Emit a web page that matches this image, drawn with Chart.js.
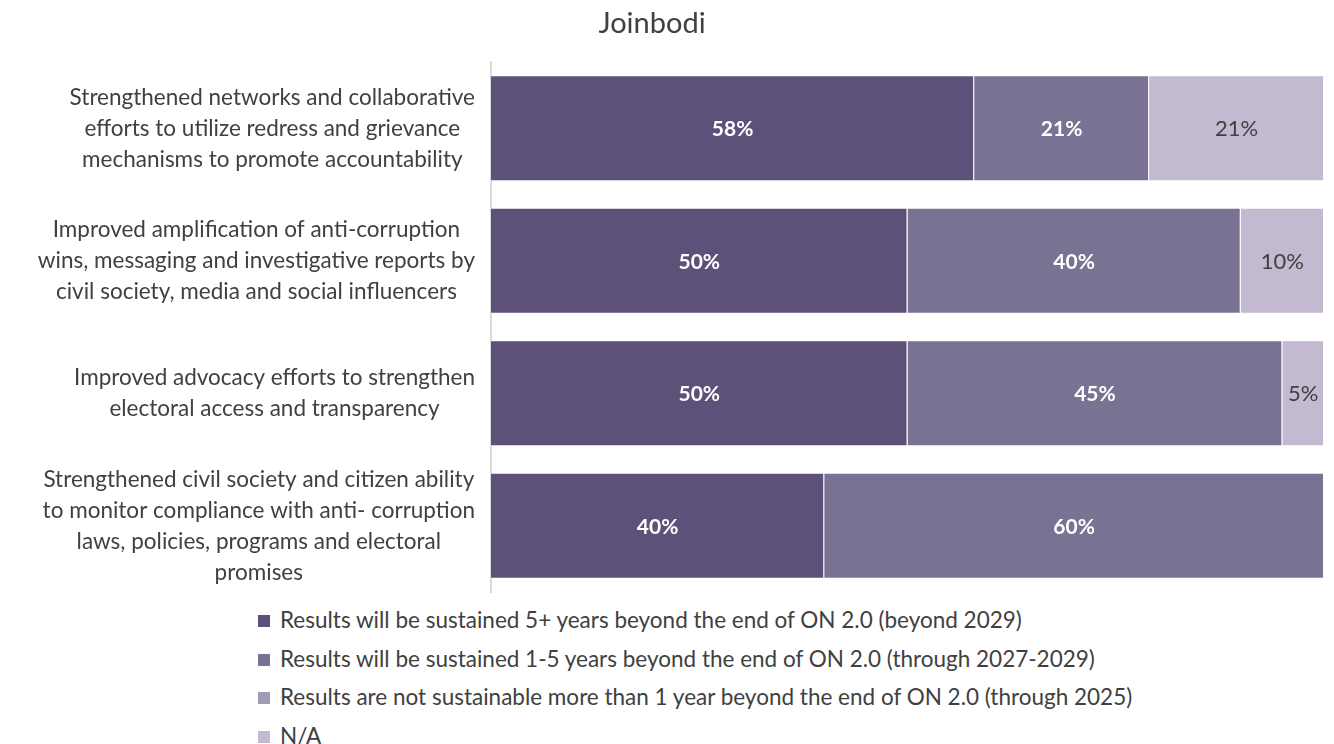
<!DOCTYPE html>
<html>
<head>
<meta charset="utf-8">
<script src="https://cdn.jsdelivr.net/npm/chart.js@4.4.1/dist/chart.umd.min.js"></script>
<style>
  body { margin: 0; background: #fff; font-family: Lato, "Open Sans", sans-serif; }
  #wrap { position: relative; width: 1334px; height: 744px; }
  #legend { position: absolute; left: 258px; top: 601px; color: #404040; font-size: 22.5px; }
  #legend div { height: 38.5px; line-height: 38px; white-space: nowrap; }
  #legend span { display: inline-block; width: 12px; height: 12px; margin-right: 10px; vertical-align: 1px; }
</style>
</head>
<body>
<div id="wrap">
  <canvas id="chart" width="1334" height="600"></canvas>
  <div id="legend"></div>
</div>
<script>
const categories = [
    ['Strengthened networks and collaborative', 'efforts to utilize redress and grievance', 'mechanisms to promote accountability'],
    ['Improved amplification of anti-corruption', 'wins, messaging and investigative reports by', 'civil society, media and social influencers'],
    ['Improved advocacy efforts to strengthen', 'electoral access and transparency'],
    ['Strengthened civil society and citizen ability', 'to monitor compliance with anti- corruption', 'laws, policies, programs and electoral', 'promises']
];
const seriesNames = [
    'Results will be sustained 5+ years beyond the end of ON 2.0 (beyond 2029)',
    'Results will be sustained 1-5 years beyond the end of ON 2.0 (through 2027-2029)',
    'Results are not sustainable more than 1 year beyond the end of ON 2.0 (through 2025)',
    'N/A'
];
const sustained5 = [58, 50, 50, 40];
const sustained1to5 = [21, 40, 45, 60];
const notSustainable = [0, 0, 0, 0];
const notApplicable = [21, 10, 5, 0];
const colors = ['#5d5079', '#7a7292', '#a09ab3', '#c3b9d0'];

const textColor = '#404040';
const font = 'Lato, "Open Sans", sans-serif';

// labels in the middle of each segment
const segmentLabels = {
    id: 'segmentLabels',
    afterDatasetsDraw(chart) {
        const ctx = chart.ctx;
        ctx.save();
        ctx.textAlign = 'center';
        ctx.textBaseline = 'middle';
        chart.data.datasets.forEach((ds, i) => {
            const meta = chart.getDatasetMeta(i);
            meta.data.forEach((bar, j) => {
                const v = ds.data[j];
                if (!v) return;
                const p = bar.getCenterPoint();
                if (i === 3) {
                    ctx.fillStyle = textColor;
                    ctx.font = '22px ' + font;
                } else {
                    ctx.fillStyle = '#ffffff';
                    ctx.font = 'bold 21px ' + font;
                }
                ctx.fillText(v + '%', p.x, p.y + 1);
            });
        });
        ctx.restore();
    }
};

// category labels: block sits against the axis, lines centred inside it
const categoryLabels = {
    id: 'categoryLabels',
    afterDraw(chart) {
        const ctx = chart.ctx;
        const yScale = chart.scales.y;
        ctx.save();
        ctx.fillStyle = textColor;
        ctx.font = '22.5px ' + font;
        ctx.textAlign = 'center';
        ctx.textBaseline = 'middle';
        const lh = 31;
        categories.forEach((lines, i) => {
            const w = Math.max(...lines.map(l => ctx.measureText(l).width));
            const cx = yScale.right - 16 - w / 2;
            const cy = yScale.getPixelForTick(i);
            lines.forEach((l, k) => {
                ctx.fillText(l, cx, cy + (k - (lines.length - 1) / 2) * lh);
            });
        });
        ctx.restore();
    }
};

const titlePlugin = {
    id: 'titleText',
    afterDraw(chart) {
        const ctx = chart.ctx;
        ctx.save();
        ctx.fillStyle = textColor;
        ctx.font = '29px ' + font;
        ctx.textAlign = 'center';
        ctx.textBaseline = 'middle';
        ctx.fillText('Joinbodi', 652, 24);
        ctx.restore();
    }
};

const datasets = [sustained5, sustained1to5, notSustainable, notApplicable].map((d, i) => ({
    label: seriesNames[i],
    data: d,
    backgroundColor: colors[i],
    borderColor: '#ffffff',
    borderWidth: 1,
    barPercentage: 0.8,
    categoryPercentage: 1
}));

const chart = new Chart(document.getElementById('chart').getContext('2d'), {
    type: 'bar',
    data: {labels: categories, datasets: datasets},
    plugins: [segmentLabels, categoryLabels, titlePlugin],
    options: {
        indexAxis: 'y',
        responsive: false,
        animation: false,
        devicePixelRatio: 1,
        layout: {padding: {top: 62, bottom: 8, right: 10, left: 0}},
        plugins: {
            legend: {display: false},
            title: {display: false},
            tooltip: {enabled: false}
        },
        scales: {
            x: {stacked: true, min: 0, max: 100, display: false},
            y: {
                stacked: true,
                afterFit: (s) => {
                    s.width = 491;
                    s.paddingTop = 0;
                    s.paddingBottom = 0;
                },
                grid: {display: false, drawTicks: false},
                border: {display: true, color: '#d9d9d9', width: 2},
                ticks: {display: false}
            }
        }
    }
});

const legend = document.getElementById('legend');
chart.data.datasets.forEach(ds => {
    const row = document.createElement('div');
    const box = document.createElement('span');
    box.style.background = ds.backgroundColor;
    row.appendChild(box);
    row.appendChild(document.createTextNode(ds.label));
    legend.appendChild(row);
});
</script>
</body>
</html>
